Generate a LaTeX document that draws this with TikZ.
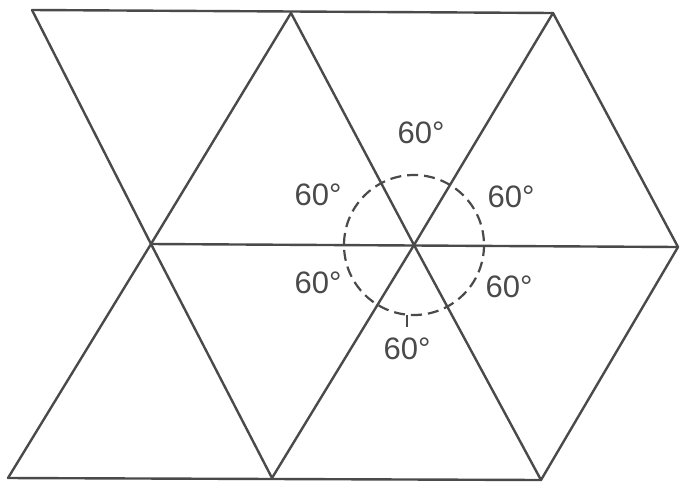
\documentclass[tikz,border=0pt]{standalone}
\usepackage{fontspec}
\setmainfont{Liberation Sans}
\definecolor{ink}{HTML}{4A4A4A}
\begin{document}
\begin{tikzpicture}[x=1pt,y=-1pt,
  edge/.style={draw=ink,line width=2.4pt,line cap=round,line join=round},
  arcmark/.style={draw=ink,line width=2.2pt,dash pattern=on 11pt off 6pt},
  lbl/.style={text=ink,font=\fontsize{31}{35}\selectfont,inner sep=0pt}]
\useasboundingbox (0,0) rectangle (682,483);
\coordinate (TL) at (32,10);
\coordinate (TM) at (291,13);
\coordinate (TR) at (553,13);
\coordinate (ML) at (151,244);
\coordinate (MC) at (414,245);
\coordinate (MR) at (678,247);
\coordinate (BL) at (8,478);
\coordinate (BM) at (272,478);
\coordinate (BR) at (541,480);
% edges
\draw[edge] (TL) -- (TR);
\draw[edge] (ML) -- (MR);
\draw[edge] (BL) -- (BR);
\draw[edge] (TL) -- (ML) -- (BL);
\draw[edge] (ML) -- (TM) -- (MC) -- (TR) -- (MR);
\draw[edge] (ML) -- (BM) -- (MC) -- (BR) -- (MR);
% dashed circle
\draw[arcmark] (MC) circle[radius=70];
\coordinate (tickA) at (407,315);
\coordinate (tickB) at (407,327);
\draw[draw=ink,line width=2pt] (tickA) -- (tickB);
% labels
\node[lbl] (a1) at (421,133) {60°};
\node[lbl] (a2) at (511,197) {60°};
\node[lbl] (a3) at (318,195) {60°};
\node[lbl] (a4) at (318,283) {60°};
\node[lbl] (a5) at (509,287) {60°};
\node[lbl] (a6) at (407,349) {60°};
\end{tikzpicture}
\end{document}
